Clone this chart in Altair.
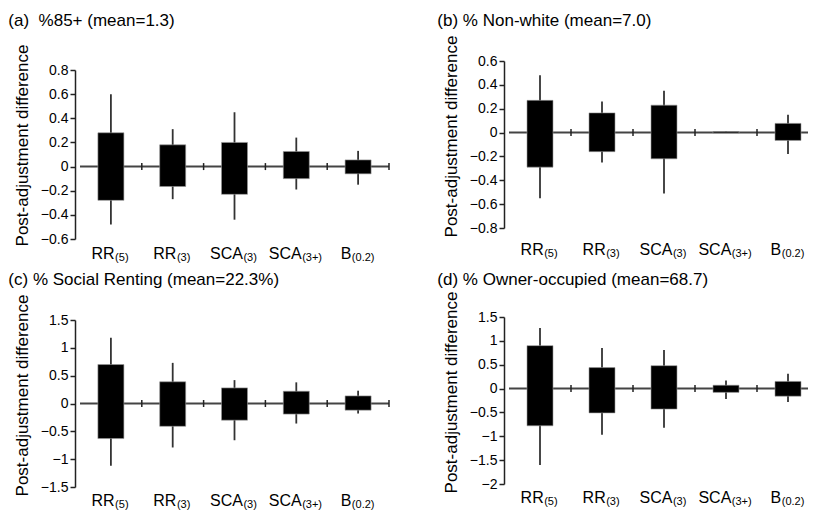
import altair as alt
import pandas as pd

# ---------------- data ----------------
cat_main = ["RR", "RR", "SCA", "SCA", "B"]
cat_sub = ["(5)", "(3)", "(3)", "(3+)", "(0.2)"]

titles = [
    "(a)\u00a0\u00a0%85+ (mean=1.3)",
    "(b) % Non-white (mean=7.0)",
    "(c) % Social Renting (mean=22.3%)",
    "(d) % Owner-occupied (mean=68.7)",
]
y_title = "Post-adjustment difference"

a_box_hi = [0.28, 0.18, 0.20, 0.125, 0.055]
a_box_lo = [-0.28, -0.165, -0.23, -0.10, -0.06]
a_wh_hi = [0.60, 0.31, 0.45, 0.24, 0.13]
a_wh_lo = [-0.48, -0.27, -0.44, -0.19, -0.15]
a_ticks = [-0.6, -0.4, -0.2, 0, 0.2, 0.4, 0.6, 0.8]

b_box_hi = [0.27, 0.165, 0.23, 0.008, 0.077]
b_box_lo = [-0.29, -0.16, -0.22, -0.004, -0.066]
b_wh_hi = [0.48, 0.26, 0.35, 0.008, 0.15]
b_wh_lo = [-0.55, -0.25, -0.51, -0.004, -0.18]
b_ticks = [-0.8, -0.6, -0.4, -0.2, 0, 0.2, 0.4, 0.6]

c_box_hi = [0.70, 0.39, 0.28, 0.22, 0.136]
c_box_lo = [-0.63, -0.41, -0.30, -0.19, -0.12]
c_wh_hi = [1.18, 0.73, 0.42, 0.38, 0.23]
c_wh_lo = [-1.12, -0.79, -0.66, -0.36, -0.18]
c_ticks = [-1.5, -1, -0.5, 0, 0.5, 1, 1.5]

d_box_hi = [0.90, 0.44, 0.48, 0.07, 0.15]
d_box_lo = [-0.78, -0.51, -0.43, -0.08, -0.16]
d_wh_hi = [1.27, 0.85, 0.81, 0.17, 0.31]
d_wh_lo = [-1.60, -0.97, -0.82, -0.22, -0.28]
d_ticks = [-2, -1.5, -1, -0.5, 0, 0.5, 1, 1.5]

FONT = "Liberation Sans"
MAIN_FS = 16
SUB_FS = 11
CW = {"R": .722, "S": .667, "C": .722, "A": .667, "B": .667,
      "(": .333, ")": .333, ".": .278, "+": .584}


def tw(s, fs):
    return sum(CW.get(ch, .556) for ch in s) * fs


def panel(title, box_hi, box_lo, wh_hi, wh_lo, ticks, W, H, top, lab_off, t_off):
    """top = blank space above the plot inside the view (px)."""
    n = len(cat_main)
    ymin, ymax = min(ticks), max(ticks)
    Ht = H + top
    d = 3.5 * (ymax - ymin) / H
    df = pd.DataFrame({
        "pos": [i + 0.5 for i in range(n)],
        "hi": box_hi, "lo": box_lo, "whi": wh_hi, "wlo": wh_lo,
        "main": cat_main, "sub": cat_sub,
    })
    df["join"] = [
        p + ((tw(m, MAIN_FS) - tw(s, SUB_FS)) / 2 - 1) * n / W
        for p, m, s in zip(df["pos"], cat_main, cat_sub)
    ]
    bdf = pd.DataFrame({"b": [i + 1 for i in range(n)],
                        "t0": [-d] * n, "t1": [d] * n})
    zdf = pd.DataFrame({"z": [0], "x0": [0], "x1": [n]})

    xs = alt.Scale(domain=[0, n], nice=False, zero=False)
    ys = alt.Scale(domain=[ymin, ymax], nice=False, zero=False, range=[Ht, top])
    ax = alt.Axis(values=ticks, format="~g", title=y_title, grid=False,
                  titleY=top + 75)

    base = alt.Chart(df)
    zero = alt.Chart(zdf).mark_rule(color="#444", strokeWidth=2).encode(
        x=alt.X("x0:Q", scale=xs, axis=None), x2="x1:Q",
        y=alt.Y("z:Q", scale=ys, axis=ax))
    bticks = alt.Chart(bdf).mark_rule(color="#222", strokeWidth=1.5).encode(
        x=alt.X("b:Q", scale=xs, axis=None),
        y=alt.Y("t0:Q", scale=ys, axis=ax), y2="t1:Q")
    whisk = base.mark_rule(color="#333", strokeWidth=1.8).encode(
        x=alt.X("pos:Q", scale=xs, axis=None),
        y=alt.Y("wlo:Q", scale=ys, axis=ax), y2="whi:Q")
    bars = base.mark_bar(size=26, color="black", stroke="#999",
                         strokeWidth=0.6).encode(
        x=alt.X("pos:Q", scale=xs, axis=None),
        y=alt.Y("lo:Q", scale=ys, axis=ax), y2="hi:Q")
    lab_main = base.mark_text(align="right", baseline="alphabetic",
                              fontSize=MAIN_FS, font=FONT, color="black").encode(
        x=alt.X("join:Q", scale=xs, axis=None),
        y=alt.value(Ht + lab_off), text="main:N")
    lab_sub = base.mark_text(align="left", baseline="alphabetic", dx=0.5,
                             fontSize=SUB_FS, font=FONT, color="black").encode(
        x=alt.X("join:Q", scale=xs, axis=None),
        y=alt.value(Ht + lab_off + 2), text="sub:N")

    return alt.layer(zero, bticks, whisk, bars, lab_main, lab_sub).properties(
        width=W, height=Ht,
        title=alt.TitleParams(title, offset=t_off, dx=-5),
    )


pa = panel(titles[0], a_box_hi, a_box_lo, a_wh_hi, a_wh_lo, a_ticks, 319, 169, 9, 20, 14)
pb = panel(titles[1], b_box_hi, b_box_lo, b_wh_hi, b_wh_lo, b_ticks, 320, 167, 0, 27, 5)
pc = panel(titles[2], c_box_hi, c_box_lo, c_wh_hi, c_wh_lo, c_ticks, 319, 167, 3, 19, 5)
pd_ = panel(titles[3], d_box_hi, d_box_lo, d_wh_hi, d_wh_lo, d_ticks, 320, 167, 0, 19, 2)

chart = alt.concat(pa, pb, pc, pd_, columns=2,
                   spacing={"row": 8, "column": 43}).properties(
    padding={"left": 0, "top": 4, "right": -16, "bottom": 0}
).configure_view(stroke=None).configure_axis(
    labelFont=FONT, titleFont=FONT, labelFontSize=14, labelColor="black",
    titleFontSize=17, titleFontWeight="normal", titleColor="black",
    domainColor="#222", domainWidth=1.5, tickColor="#222", tickWidth=1.5,
    tickSize=5, labelPadding=2, titlePadding=9,
).configure_title(
    font=FONT, fontSize=17, fontWeight="normal", anchor="start", color="black",
)

chart.save("out.html", embed_options={"renderer": "svg", "actions": False})
